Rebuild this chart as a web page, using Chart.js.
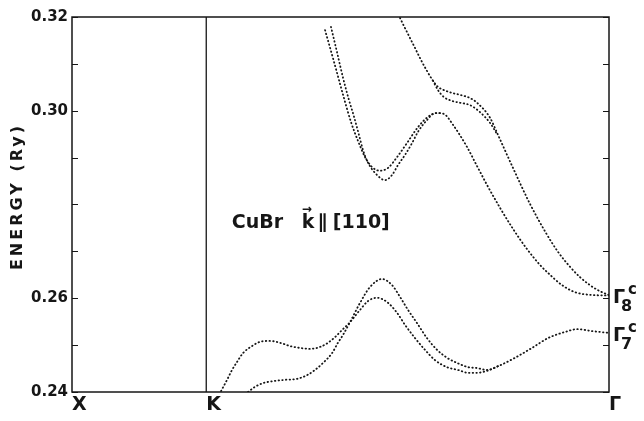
<!DOCTYPE html>
<html>
<head>
<meta charset="utf-8">
<script src="https://cdn.jsdelivr.net/npm/chart.js@4.4.1/dist/chart.umd.min.js"></script>
<style>
  html, body { margin: 0; padding: 0; background: #fff; }
  #wrap { width: 644px; height: 421px; position: relative; }
</style>
</head>
<body>
<div id="wrap"><canvas id="BandChart"></canvas></div>
<script>
// symmetry points along the path, K-Gamma is 3x as long as X-K
var symLabels = ['X', 'K', 'Γ'];
var symPos = [0, 1, 4];

var yTickLabels = [0.24, 0.26, 0.30, 0.32];

// conduction bands (k in path units, E in Ry)
// where two bands merge only one of them is kept to the end
var kA1 = [1.885, 1.952, 2.019, 2.078, 2.130, 2.183, 2.235, 2.294, 2.354, 2.421, 2.495, 2.577, 2.652, 2.719, 2.771, 2.838, 2.942, 3.017, 3.091, 3.188, 3.285, 3.389, 3.486, 3.546, 3.650, 3.747, 3.873, 4.000];
var eA1 = [0.3172, 0.3104, 0.3034, 0.2976, 0.2936, 0.2901, 0.2880, 0.2872, 0.2878, 0.2901, 0.2931, 0.2965, 0.2987, 0.2995, 0.2993, 0.2970, 0.2923, 0.2882, 0.2842, 0.2793, 0.2748, 0.2705, 0.2671, 0.2654, 0.2628, 0.2613, 0.2607, 0.2606];

var kA2 = [1.929, 1.974, 2.019, 2.063, 2.101, 2.138, 2.168, 2.205, 2.272, 2.332, 2.384, 2.428, 2.481, 2.533, 2.577, 2.644, 2.704, 2.756];
var eA2 = [0.3179, 0.3125, 0.3070, 0.3023, 0.2987, 0.2948, 0.2916, 0.2889, 0.2863, 0.2852, 0.2863, 0.2884, 0.2906, 0.2931, 0.2955, 0.2980, 0.2995, 0.2995];

var kB1 = [2.443, 2.495, 2.548, 2.600, 2.644, 2.689, 2.726, 2.771, 2.831, 2.890, 2.965, 3.017, 3.114, 3.166, 3.285, 3.412, 3.531, 3.620, 3.710, 3.784, 3.858, 3.933, 4.000];
var eB1 = [0.3198, 0.3168, 0.3138, 0.3108, 0.3085, 0.3064, 0.3051, 0.3044, 0.3038, 0.3034, 0.3027, 0.3017, 0.2985, 0.2953, 0.2878, 0.2801, 0.2739, 0.2699, 0.2667, 0.2645, 0.2628, 0.2615, 0.2607];

var kB2 = [2.689, 2.726, 2.771, 2.831, 2.890, 2.965, 3.039, 3.114, 3.166];
var eB2 = [0.3064, 0.3044, 0.3029, 0.3021, 0.3017, 0.3012, 0.2997, 0.2974, 0.2950];

var kC1 = [1.110, 1.155, 1.192, 1.229, 1.274, 1.341, 1.400, 1.475, 1.549, 1.624, 1.698, 1.773, 1.847, 1.907, 1.959, 2.011, 2.071, 2.145, 2.205, 2.272, 2.346, 2.421, 2.481, 2.555, 2.629, 2.704, 2.793, 2.875, 2.950, 3.017, 3.091, 3.173];
var eC1 = [0.2402, 0.2426, 0.2447, 0.2464, 0.2483, 0.2498, 0.2507, 0.2509, 0.2505, 0.2498, 0.2494, 0.2492, 0.2496, 0.2505, 0.2517, 0.2532, 0.2549, 0.2575, 0.2594, 0.2601, 0.2592, 0.2569, 0.2543, 0.2515, 0.2490, 0.2468, 0.2453, 0.2447, 0.2441, 0.2441, 0.2445, 0.2455];

var kC2 = [1.311, 1.363, 1.423, 1.497, 1.587, 1.676, 1.751, 1.810, 1.870, 1.937, 1.981, 2.019, 2.071, 2.145, 2.220, 2.309, 2.384, 2.443, 2.503, 2.570, 2.644, 2.719, 2.793, 2.868, 2.950, 3.017, 3.091, 3.173, 3.300, 3.426, 3.546, 3.672, 3.762, 3.873, 4.000];
var eC2 = [0.2400, 0.2411, 0.2419, 0.2423, 0.2426, 0.2428, 0.2436, 0.2447, 0.2462, 0.2483, 0.2505, 0.2522, 0.2549, 0.2590, 0.2624, 0.2641, 0.2628, 0.2603, 0.2575, 0.2547, 0.2515, 0.2490, 0.2473, 0.2462, 0.2453, 0.2451, 0.2447, 0.2455, 0.2473, 0.2494, 0.2515, 0.2528, 0.2534, 0.2530, 0.2526];

// Gamma point levels at the right edge
var gammaSub = ['8', '7'];
var gammaE = [0.2606, 0.2526];

var notePos = [1.19, 0.2761];

var ink = '#161616';
var fam = '"DejaVu Sans", sans-serif';

function pts(k, e) {
  return k.map(function (v, i) { return { x: v, y: e[i] }; });
}

var bands = [[kA1, eA1], [kA2, eA2], [kB1, eB1], [kB2, eB2], [kC1, eC1], [kC2, eC2]];

var framePlugin = {
  id: 'frame',
  afterDatasetsDraw: function (chart) {
    var ctx = chart.ctx, a = chart.chartArea;
    var xs = chart.scales.x, ys = chart.scales.y;
    ctx.save();
    ctx.strokeStyle = ink;
    ctx.fillStyle = ink;
    ctx.lineWidth = 1.5;
    ctx.strokeRect(a.left, a.top, a.right - a.left, a.bottom - a.top);

    // vertical line at K
    var kx = xs.getPixelForValue(symPos[1]);
    ctx.lineWidth = 1.3;
    ctx.beginPath();
    ctx.moveTo(kx, a.top);
    ctx.lineTo(kx, a.bottom);
    ctx.stroke();

    // inward ticks on both sides
    ctx.lineWidth = 1;
    ys.ticks.forEach(function (t) {
      var py = Math.round(ys.getPixelForValue(t.value)) + 0.5;
      ctx.beginPath();
      ctx.moveTo(a.left, py); ctx.lineTo(a.left + 6, py);
      ctx.moveTo(a.right, py); ctx.lineTo(a.right - 6, py);
      ctx.stroke();
    });

    // y title
    ctx.save();
    ctx.translate(18, (a.top + a.bottom) / 2 - 8);
    ctx.rotate(-Math.PI / 2);
    ctx.font = 'bold 16px ' + fam;
    ctx.letterSpacing = '3px';
    ctx.textAlign = 'center';
    ctx.textBaseline = 'middle';
    ctx.fillText('ENERGY (Ry)', 0, 0);
    ctx.restore();

    // annotation: CuBr  k(arrow) || [110]
    var nx = xs.getPixelForValue(notePos[0]);
    var ny = ys.getPixelForValue(notePos[1]);
    ctx.textAlign = 'left';
    ctx.textBaseline = 'middle';
    ctx.font = 'bold 19px ' + fam;
    ctx.fillText('CuBr', nx, ny);
    ctx.fillText('k', nx + 70, ny);
    ctx.fillText('\u2225', nx + 86, ny);
    ctx.fillText('[110]', nx + 101, ny);
    ctx.font = 'bold 12px ' + fam;
    ctx.fillText('\u2192', nx + 70, ny - 13);

    // Gamma labels
    ctx.textBaseline = 'alphabetic';
    gammaE.forEach(function (e, i) {
      var py = ys.getPixelForValue(e);
      var x0 = a.right + 4;
      ctx.font = 'bold 19px ' + fam;
      ctx.fillText('Γ', x0, py + 8);
      ctx.font = 'bold 16px ' + fam;
      ctx.fillText(gammaSub[i], x0 + 8, py + 16);
      ctx.font = 'bold 15px ' + fam;
      ctx.fillText('c', x0 + 15, py - 1);
    });
    ctx.restore();
  }
};

var ctx = document.getElementById('BandChart').getContext('2d');
var BandChart = new Chart(ctx, {
  type: 'line',
  data: {
    datasets: bands.map(function (b) {
      return {
        data: pts(b[0], b[1]),
        borderColor: ink,
        borderWidth: 1.8,
        borderDash: [0.5, 3.2],
        borderCapStyle: 'round',
        pointRadius: 0,
        fill: false,
        cubicInterpolationMode: 'monotone'
      };
    })
  },
  options: {
    responsive: true,
    maintainAspectRatio: false,
    animation: false,
    layout: { padding: { top: 17, right: 35, bottom: 0, left: 0 } },
    plugins: { legend: { display: false }, tooltip: { enabled: false } },
    scales: {
      x: {
        type: 'linear',
        min: symPos[0],
        max: symPos[2],
        grid: { display: false, drawTicks: false },
        border: { display: false },
        afterBuildTicks: function (s) {
          s.ticks = symPos.map(function (v) { return { value: v }; });
        },
        afterFit: function (s) { s.height = 29; },
        ticks: {
          align: 'start',
          padding: 2,
          color: ink,
          autoSkip: false,
          maxRotation: 0,
          font: { family: fam, size: 19, weight: 'bold' },
          callback: function (v) {
            var i = symPos.indexOf(v);
            return i < 0 ? '' : symLabels[i];
          }
        }
      },
      y: {
        min: 0.24,
        max: 0.32,
        grid: { display: false, drawTicks: false },
        border: { display: false },
        afterFit: function (s) { s.width = 72; },
        ticks: {
          stepSize: 0.01,
          padding: 4,
          color: ink,
          autoSkip: false,
          font: { family: fam, size: 15, weight: 'bold' },
          callback: function (v) {
            var r = Math.round(v * 100) / 100;
            return yTickLabels.indexOf(r) < 0 ? '' : r.toFixed(2);
          }
        }
      }
    }
  },
  plugins: [framePlugin]
});
</script>
</body>
</html>
